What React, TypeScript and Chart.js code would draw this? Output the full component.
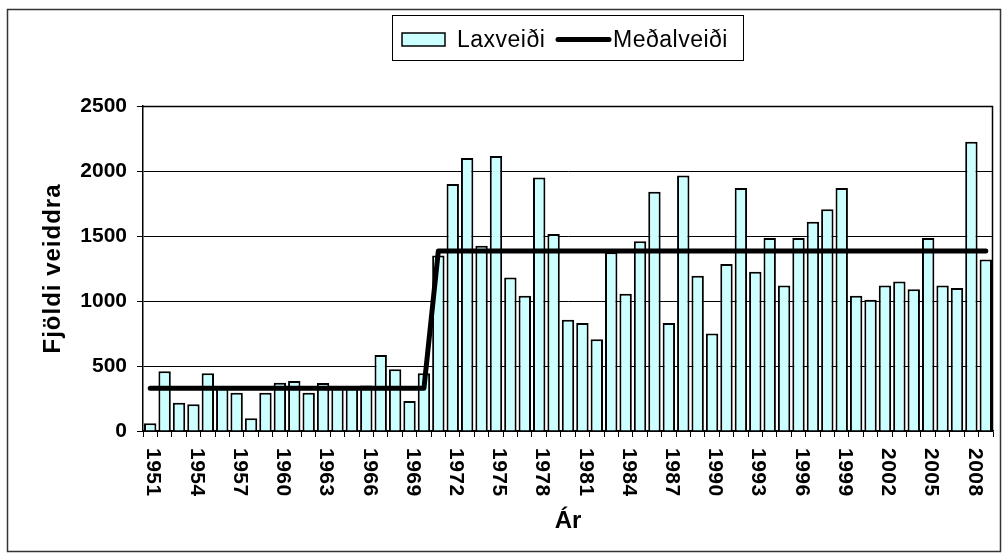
import React, { useEffect, useRef } from "react";
import { Chart, registerables } from "chart.js";

Chart.register(...registerables);

const years: string[] = [
  "1951", "1952", "1953", "1954", "1955", "1956", "1957", "1958", "1959", "1960",
  "1961", "1962", "1963", "1964", "1965", "1966", "1967", "1968", "1969", "1970",
  "1971", "1972", "1973", "1974", "1975", "1976", "1977", "1978", "1979", "1980",
  "1981", "1982", "1983", "1984", "1985", "1986", "1987", "1988", "1989", "1990",
  "1991", "1992", "1993", "1994", "1995", "1996", "1997", "1998", "1999", "2000",
  "2001", "2002", "2003", "2004", "2005", "2006", "2007", "2008", "2009",
];

const laxveidi: number[] = [
  60, 460, 218, 205, 445, 330, 295, 98, 295, 372,
  385, 295, 370, 330, 330, 350, 585, 475, 230, 445,
  1350, 1900, 2100, 1425, 2115, 1180, 1040, 1950, 1515, 855,
  830, 705, 1375, 1055, 1460, 1840, 830, 1965, 1195, 750,
  1285, 1870, 1225, 1485, 1120, 1485, 1610, 1705, 1870, 1040,
  1010, 1120, 1150, 1090, 1485, 1120, 1100, 2225, 1320,
];

const medalveidi: number[] = [
  328, 328, 328, 328, 328, 328, 328, 328, 328, 328,
  328, 328, 328, 328, 328, 328, 328, 328, 328, 328,
  1385, 1385, 1385, 1385, 1385, 1385, 1385, 1385, 1385, 1385,
  1385, 1385, 1385, 1385, 1385, 1385, 1385, 1385, 1385, 1385,
  1385, 1385, 1385, 1385, 1385, 1385, 1385, 1385, 1385, 1385,
  1385, 1385, 1385, 1385, 1385, 1385, 1385, 1385, 1385,
];

const xTickLabels: string[] = [
  "1951", "1954", "1957", "1960", "1963", "1966", "1969", "1972", "1975", "1978",
  "1981", "1984", "1987", "1990", "1993", "1996", "1999", "2002", "2005", "2008",
];

const FONT = "'Liberation Sans', Arial, sans-serif";
const BAR_FILL = "#CCFFFF";

const customDraw = {
  id: "customDraw",
  afterDraw(chart: any) {
    const ctx = chart.ctx as CanvasRenderingContext2D;
    const area = chart.chartArea;
    const xs = chart.scales.x;
    ctx.save();

    // outer border
    ctx.strokeStyle = "#333";
    ctx.lineWidth = 1.5;
    ctx.strokeRect(7.5, 9.5, 993, 542);

    // plot frame (top + right)
    ctx.strokeStyle = "#000";
    ctx.lineWidth = 1.5;
    ctx.beginPath();
    ctx.moveTo(area.left, area.top + 0.5);
    ctx.lineTo(area.right - 0.5, area.top + 0.5);
    ctx.lineTo(area.right - 0.5, area.bottom);
    ctx.stroke();

    // x tick labels rotated +90 (reading top to bottom)
    ctx.fillStyle = "#000";
    ctx.font = `bold 21px ${FONT}`;
    (ctx as any).letterSpacing = "0.5px";
    ctx.textAlign = "left";
    ctx.textBaseline = "middle";
    xTickLabels.forEach((lab) => {
      const idx = years.indexOf(lab);
      const x = xs.getPixelForValue(idx) + 3;
      ctx.save();
      ctx.translate(x, 448);
      ctx.rotate(Math.PI / 2);
      ctx.fillText(lab, 0, 0);
      ctx.restore();
    });
    (ctx as any).letterSpacing = "0px";

    // x title
    ctx.font = `bold 24px ${FONT}`;
    ctx.textAlign = "center";
    ctx.textBaseline = "alphabetic";
    ctx.fillText("Ár", (area.left + area.right) / 2, 528);

    // y title
    ctx.save();
    ctx.translate(60, (area.top + area.bottom) / 2);
    ctx.rotate(-Math.PI / 2);
    (ctx as any).letterSpacing = "1px";
    ctx.textAlign = "center";
    ctx.textBaseline = "alphabetic";
    ctx.fillText("Fjöldi veiddra", 0, 0);
    ctx.restore();

    // legend
    ctx.fillStyle = "#fff";
    ctx.fillRect(392, 15, 352, 46);
    ctx.strokeStyle = "#000";
    ctx.lineWidth = 1;
    ctx.strokeRect(392.5, 15.5, 351, 45);
    ctx.fillStyle = BAR_FILL;
    ctx.fillRect(402, 33, 43, 13);
    ctx.lineWidth = 1.5;
    ctx.strokeRect(402, 33, 43, 13);
    ctx.fillStyle = "#000";
    ctx.font = `23px ${FONT}`;
    (ctx as any).letterSpacing = "0.5px";
    ctx.textAlign = "left";
    ctx.textBaseline = "alphabetic";
    ctx.fillText("Laxveiði", 457, 47);
    ctx.lineWidth = 5;
    ctx.lineCap = "round";
    ctx.beginPath();
    ctx.moveTo(558, 39.5);
    ctx.lineTo(609, 39.5);
    ctx.stroke();
    ctx.fillText("Meðalveiði", 613, 47);
    (ctx as any).letterSpacing = "0px";

    ctx.restore();
  },
};

export default function App() {
  const canvasRef = useRef<HTMLCanvasElement | null>(null);

  useEffect(() => {
    if (!canvasRef.current) return;
    const chart = new Chart(canvasRef.current, {
      type: "bar",
      data: {
        labels: years,
        datasets: [
          {
            type: "line",
            label: "Meðalveiði",
            data: medalveidi,
            borderColor: "#000",
            backgroundColor: "#000",
            borderWidth: 5,
            pointRadius: 0,
            borderCapStyle: "round",
            borderJoinStyle: "round",
            tension: 0,
            order: 0,
          } as any,
          {
            type: "bar",
            label: "Laxveiði",
            data: laxveidi,
            backgroundColor: BAR_FILL,
            borderColor: "#000",
            borderWidth: 2,
            categoryPercentage: 1,
            barPercentage: 0.86,
            order: 1,
          },
        ],
      },
      options: {
        responsive: false,
        animation: false,
        layout: { padding: { left: 0, top: 106, right: 9, bottom: 0 } },
        plugins: {
          legend: { display: false },
          tooltip: { enabled: false },
          title: { display: false },
        },
        scales: {
          x: {
            offset: true,
            grid: {
              offset: true,
              drawOnChartArea: false,
              drawTicks: true,
              tickLength: 6,
              color: "#000",
              lineWidth: 1,
            },
            border: { color: "#000", width: 1.5 },
            ticks: {
              autoSkip: false,
              maxRotation: 0,
              minRotation: 0,
              callback: () => "",
            },
            afterFit: (s: any) => {
              s.height = 128;
            },
          } as any,
          y: {
            min: 0,
            max: 2500,
            grid: {
              color: "#000",
              lineWidth: 1,
              tickLength: 6,
            },
            border: { color: "#000", width: 1.5 },
            ticks: {
              stepSize: 500,
              padding: 10,
              color: "#000",
              font: { family: FONT, size: 21, weight: "bold" },
              callback: (v: any) => String(v),
            },
            afterFit: (s: any) => {
              s.width = 143;
            },
          } as any,
        },
      },
      plugins: [customDraw],
    });
    return () => chart.destroy();
  }, []);

  return (
    <div style={{ position: "fixed", left: 0, top: 0, width: 1002, height: 559, background: "#fff" }}>
      <canvas ref={canvasRef} width={1002} height={559} style={{ display: "block" }} />
    </div>
  );
}
